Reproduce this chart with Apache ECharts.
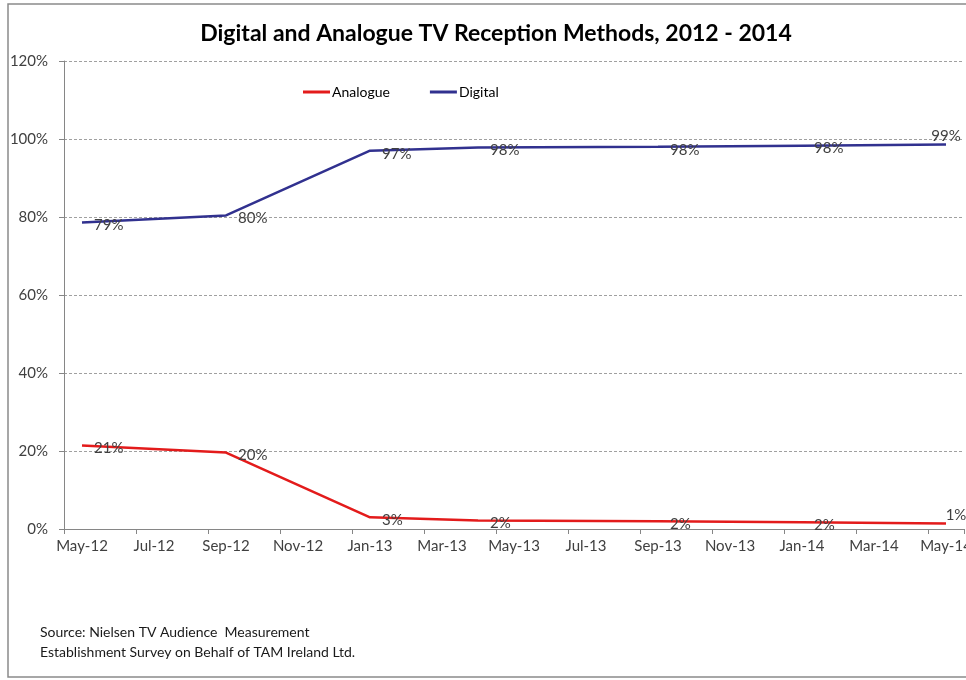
<!DOCTYPE html>
<html>
<head>
<meta charset="utf-8">
<title>Digital and Analogue TV Reception Methods, 2012 - 2014</title>
<script src="https://cdn.jsdelivr.net/npm/echarts@6/dist/echarts.min.js"></script>
<style>
  html, body { margin: 0; padding: 0; background: #ffffff; overflow: hidden; }
  #chart { width: 966px; height: 680px; }
</style>
</head>
<body>
<div id="chart"></div>
<script>
// Monthly slots on the time axis (labels shown every second month)
const months = [
  'May-12', 'Jun-12', 'Jul-12', 'Aug-12', 'Sep-12', 'Oct-12', 'Nov-12', 'Dec-12',
  'Jan-13', 'Feb-13', 'Mar-13', 'Apr-13', 'May-13', 'Jun-13', 'Jul-13', 'Aug-13',
  'Sep-13', 'Oct-13', 'Nov-13', 'Dec-13', 'Jan-14', 'Feb-14', 'Mar-14', 'Apr-14',
  'May-14'
];

// Survey waves and share of homes (%) by reception method
const surveyMonths = ['May-12', 'Sep-12', 'Jan-13', 'Apr-13', 'Sep-13', 'Jan-14', 'May-14'];
const digital = [78.6, 80.4, 97.0, 97.8, 98.0, 98.3, 98.6];
const analogue = [21.4, 19.6, 3.0, 2.2, 2.0, 1.7, 1.4];

const yTicks = [0, 20, 40, 60, 80, 100, 120];

const FONT = 'Lato, "Open Sans", sans-serif';
const LAST = surveyMonths.length - 1;

function buildPoints(values, lastOffset) {
  return surveyMonths.map((m, i) => {
    const item = { value: [m, values[i]] };
    if (i === LAST) {
      item.label = { position: 'top', distance: 1, offset: lastOffset };
    }
    return item;
  });
}

const labelStyle = {
  show: true,
  position: 'right',
  distance: 12,
  offset: [0, 3],
  color: '#404040',
  fontFamily: FONT,
  fontSize: 15,
  formatter: p => Math.round(p.value[1]) + '%'
};

const chart = echarts.init(document.getElementById('chart'), null, { renderer: 'canvas' });

chart.setOption({
  animation: false,
  backgroundColor: '#ffffff',
  title: {
    text: 'Digital and Analogue TV Reception Methods, 2012 - 2014',
    left: 491,
    top: 17,
    textAlign: 'center',
    textStyle: {
      fontFamily: FONT,
      fontSize: 23,
      fontWeight: 'bold',
      color: '#000000'
    }
  },
  legend: {
    left: 303,
    top: 85,
    padding: 0,
    itemWidth: 27,
    itemHeight: 3,
    itemGap: 40,
    icon: 'rect',
    textStyle: { fontFamily: FONT, fontSize: 14, color: '#000000', padding: [0, 0, 0, -3] },
    data: ['Analogue', 'Digital']
  },
  grid: {
    left: 64,
    top: 61,
    width: 900,
    height: 468,
    containLabel: false,
    outerBoundsMode: 'none'
  },
  xAxis: {
    type: 'category',
    data: months,
    boundaryGap: true,
    axisLine: { show: true, lineStyle: { color: '#868686', width: 1 } },
    axisTick: { show: true, interval: 1, length: 5, lineStyle: { color: '#868686' } },
    axisLabel: {
      interval: 1,
      margin: 10,
      color: '#404040',
      fontFamily: FONT,
      fontSize: 15
    },
    splitLine: { show: false }
  },
  yAxis: {
    type: 'value',
    min: yTicks[0],
    max: yTicks[yTicks.length - 1],
    interval: 20,
    axisLine: { show: true, lineStyle: { color: '#868686', width: 1 } },
    axisTick: { show: true, length: 5, lineStyle: { color: '#868686' } },
    axisLabel: {
      margin: 16,
      color: '#404040',
      fontFamily: FONT,
      fontSize: 15,
      formatter: v => v + '%'
    },
    splitLine: { show: true, lineStyle: { color: '#a0a0a0', type: [3, 2], width: 1 } }
  },
  series: [
    {
      name: 'Analogue',
      type: 'line',
      data: buildPoints(analogue, [10, 0]),
      symbol: 'circle',
      symbolSize: 0,
      showSymbol: true,
      color: '#e31b1b',
      lineStyle: { color: '#e31b1b', width: 2.5 },
      label: labelStyle,
      z: 3
    },
    {
      name: 'Digital',
      type: 'line',
      data: buildPoints(digital, [0, 0]),
      symbol: 'circle',
      symbolSize: 0,
      showSymbol: true,
      color: '#31318f',
      lineStyle: { color: '#31318f', width: 2.5 },
      label: labelStyle,
      z: 3
    }
  ],
  graphic: [
    {
      // chart-area frame: open on the right where the page is cut off
      type: 'polyline',
      shape: { points: [[1000, 4], [8, 4], [8, 677], [1000, 677]] },
      style: { fill: 'none', stroke: '#8a8a8a', lineWidth: 1.5 },
      silent: true,
      z: -10
    },
    {
      type: 'text',
      left: 40,
      top: 622,
      style: {
        text: 'Source: Nielsen TV Audience  Measurement\nEstablishment Survey on Behalf of TAM Ireland Ltd.',
        fill: '#1a1a1a',
        font: '14px ' + FONT,
        lineHeight: 20
      }
    }
  ]
});
</script>
</body>
</html>
